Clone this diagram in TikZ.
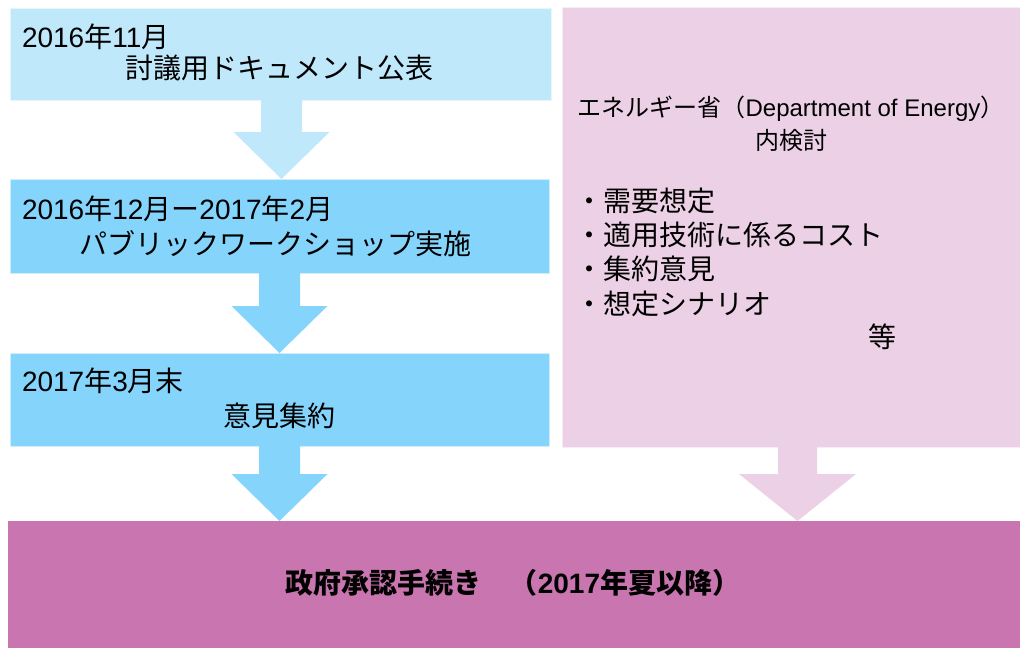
\documentclass[tikz,border=0pt]{standalone}
\usepackage{fontspec}
\setmainfont{Noto Sans CJK JP}
\newfontfamily\lat{Liberation Sans}
\usetikzlibrary{calc}
\definecolor{lblue}{HTML}{C0E8FB}
\definecolor{mblue}{HTML}{84D4FC}
\definecolor{lpink}{HTML}{ECD0E5}
\definecolor{mag}{HTML}{C975B0}
\tikzset{
  panel/.style={inner sep=0pt, outer sep=0pt, anchor=north west, draw=white!60!#1, line width=0.6pt, fill=#1},
  txt/.style={inner sep=0pt, outer sep=0pt, anchor=west, font=\fontsize{28}{34}\selectfont},
  smalltxt/.style={inner sep=0pt, outer sep=0pt, align=center, font=\fontsize{24}{33}\selectfont},
  boldtxt/.style={inner sep=0pt, outer sep=0pt, font=\fontsize{28}{34}\selectfont\bfseries},
}
% #1 colour, #2 upper node, #3 lower node, #4 centre x, #5 shaft half width, #6 head half width
\newcommand\blockarrow[6]{%
  \fill[#1] let \p1=(#2.south), \p2=(#3.north) in
    ({#4-#5},\y1) -- ({#4+#5},\y1) -- ({#4+#5},{\y2+47pt}) -- ({#4+#6},{\y2+47pt})
    -- (#4,\y2) -- ({#4-#6},{\y2+47pt}) -- ({#4-#5},{\y2+47pt}) -- cycle;}
\begin{document}
\begin{tikzpicture}[x=1pt,y=-1pt]
\useasboundingbox (0,0) rectangle (1020,648);
% panels
\node[panel=lblue, minimum width=541pt, minimum height=92pt] (b1) at (10,8) {};
\node[panel=mblue, minimum width=539pt, minimum height=94pt] (b2) at (10,179) {};
\node[panel=mblue, minimum width=539pt, minimum height=93pt] (b3) at (10,353) {};
\node[panel=lpink, minimum width=458pt, minimum height=440pt] (pk) at (562,7) {};
\node[panel=mag, draw=none, minimum width=1012pt, minimum height=127pt] (gov) at (8,521) {};
% arrows
\blockarrow{lblue}{b1}{b2}{281.5}{20.5}{48}
\blockarrow{mblue}{b2}{b3}{279.5}{20.5}{48}
\blockarrow{mblue}{b3}{gov}{279.5}{20.5}{48}
\blockarrow{lpink}{pk}{gov}{797.5}{19.5}{58.5}
% texts box 1
\node[txt] (t1a) at (22,37) {{\lat 2016}年{\lat 11}月};
\node[txt] (t1b) at (125,68) {討議用ドキュメント公表};
% box 2
\node[txt] (t2a) at (22,209) {{\lat 2016}年{\lat 12}月ー{\lat 2017}年{\lat 2}月};
\node[txt] (t2b) at (79,244) {パブリックワークショップ実施};
% box 3
\node[txt] (t3a) at (22,381) {{\lat 2017}年{\lat 3}月末};
\node[txt] (t3b) at (223,416) {意見集約};
% pink box
\node[smalltxt] (pt) at (791,124) {エネルギー省（{\lat Department of Energy}）\\内検討};
\node[txt] (p1) at (575,201) {・需要想定};
\node[txt] (p2) at (575,235) {・適用技術に係るコスト};
\node[txt] (p3) at (575,269) {・集約意見};
\node[txt] (p4) at (575,304) {・想定シナリオ};
\node[txt, anchor=center] (p5) at (882,337) {等};
% bottom
\node[boldtxt] (gt) at (513,583) {政府承認手続き　（{\lat\bfseries 2017}年夏以降）};
\end{tikzpicture}
\end{document}
